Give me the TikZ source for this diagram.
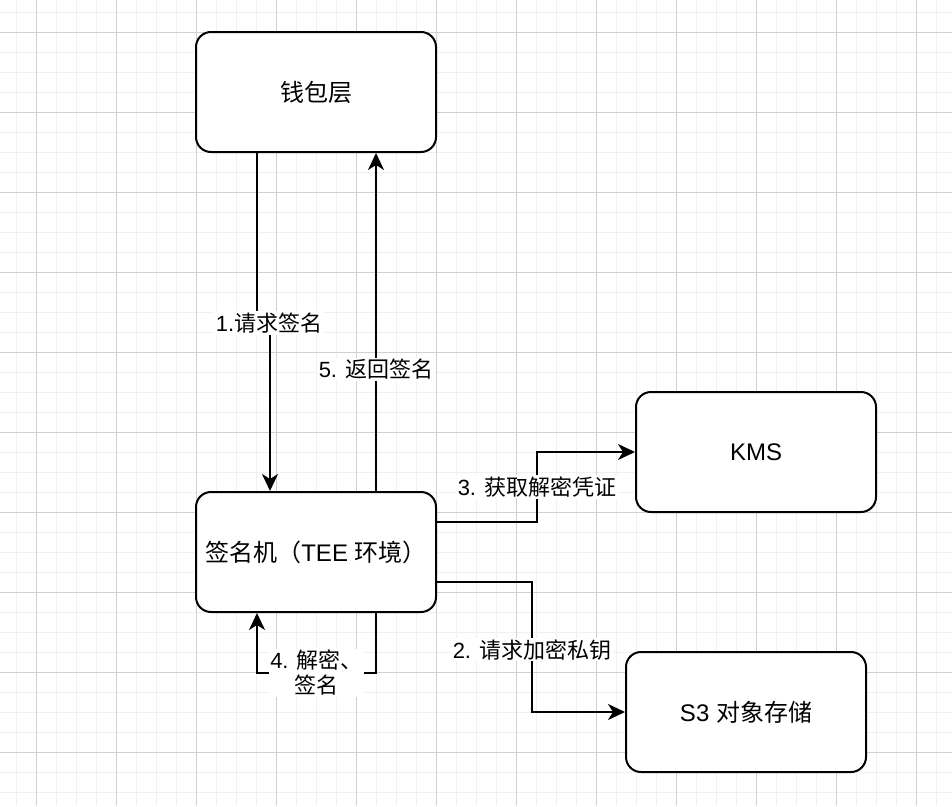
\documentclass[tikz,border=0pt]{standalone}
\usepackage{fontspec}
\setmainfont{Liberation Sans}
\newfontfamily\cjkfont{Noto Sans CJK SC}
\newcommand{\zh}[1]{{\cjkfont #1}}
\usetikzlibrary{arrows.meta}
\usetikzlibrary{positioning}
\definecolor{gridminor}{HTML}{F0F0F0}
\definecolor{gridmajor}{HTML}{D0D0D0}

\begin{document}
\begin{tikzpicture}[
    x=1pt, y=-1pt,
    font=\fontsize{24}{28}\selectfont
]
\tikzset{
    boxnode/.style = {rectangle, rounded corners=15pt, draw=black, line width=2pt, fill=white, minimum width=240pt, minimum height=120pt, align=center},
    flow/.style = {-{Stealth[length=17pt,width=16pt,inset=5pt]}, line width=2pt},
    lbl/.style = {fill=white, inner sep=1.5pt, font=\fontsize{22}{25}\selectfont, align=center},
    minorline/.style = {gridminor, line width=1pt},
    majorline/.style = {gridmajor, line width=1pt}
}
% background grid
\fill[white] (0,0) rectangle (952,806);
\useasboundingbox (0,0) rectangle (952,806);
\foreach \gx in {16,36,...,936} \draw[minorline] (\gx,0) -- (\gx,806);
\foreach \gy in {12,32,...,792} \draw[minorline] (0,\gy) -- (952,\gy);
\foreach \gx in {36,116,...,916} \draw[majorline] (\gx,0) -- (\gx,806);
\foreach \gy in {32,112,...,752} \draw[majorline] (0,\gy) -- (952,\gy);

\node[boxnode] at (316,92) (wallet) {\zh{钱包层}};
\node[boxnode] at (756,452) (kms) {KMS};
\node[boxnode] at (316,552) (signer) {\zh{签名机（}TEE \zh{环境）}};
\node[boxnode] at (746,712) (s3) {S3 \zh{对象存储}};

\draw[flow] ([xshift=-59pt]wallet.south) -- ++(0,170) node[lbl, xshift=12pt] {1.\zh{请求签名}} -| ([xshift=-46pt]signer.north);
\draw[flow] ([xshift=60pt]signer.north) -- node[lbl, pos=0.36] {5. \zh{返回签名}} ([xshift=60pt]wallet.south);
\draw[flow] ([yshift=30pt]signer.east) -- ++(100,0) |- node[lbl, pos=0.25] {3. \zh{获取解密凭证}} (kms.west);
\draw[flow] ([yshift=-30pt]signer.east) -- ++(95,0) |- node[lbl, pos=0.26] {2. \zh{请求加密私钥}} (s3.west);
\draw[flow] ([xshift=60pt]signer.south) -- ++(0,60) -| node[lbl, pos=0.25] {4. \zh{解密、}\\\zh{签名}} ([xshift=-59pt]signer.south);
\end{tikzpicture}
\end{document}
